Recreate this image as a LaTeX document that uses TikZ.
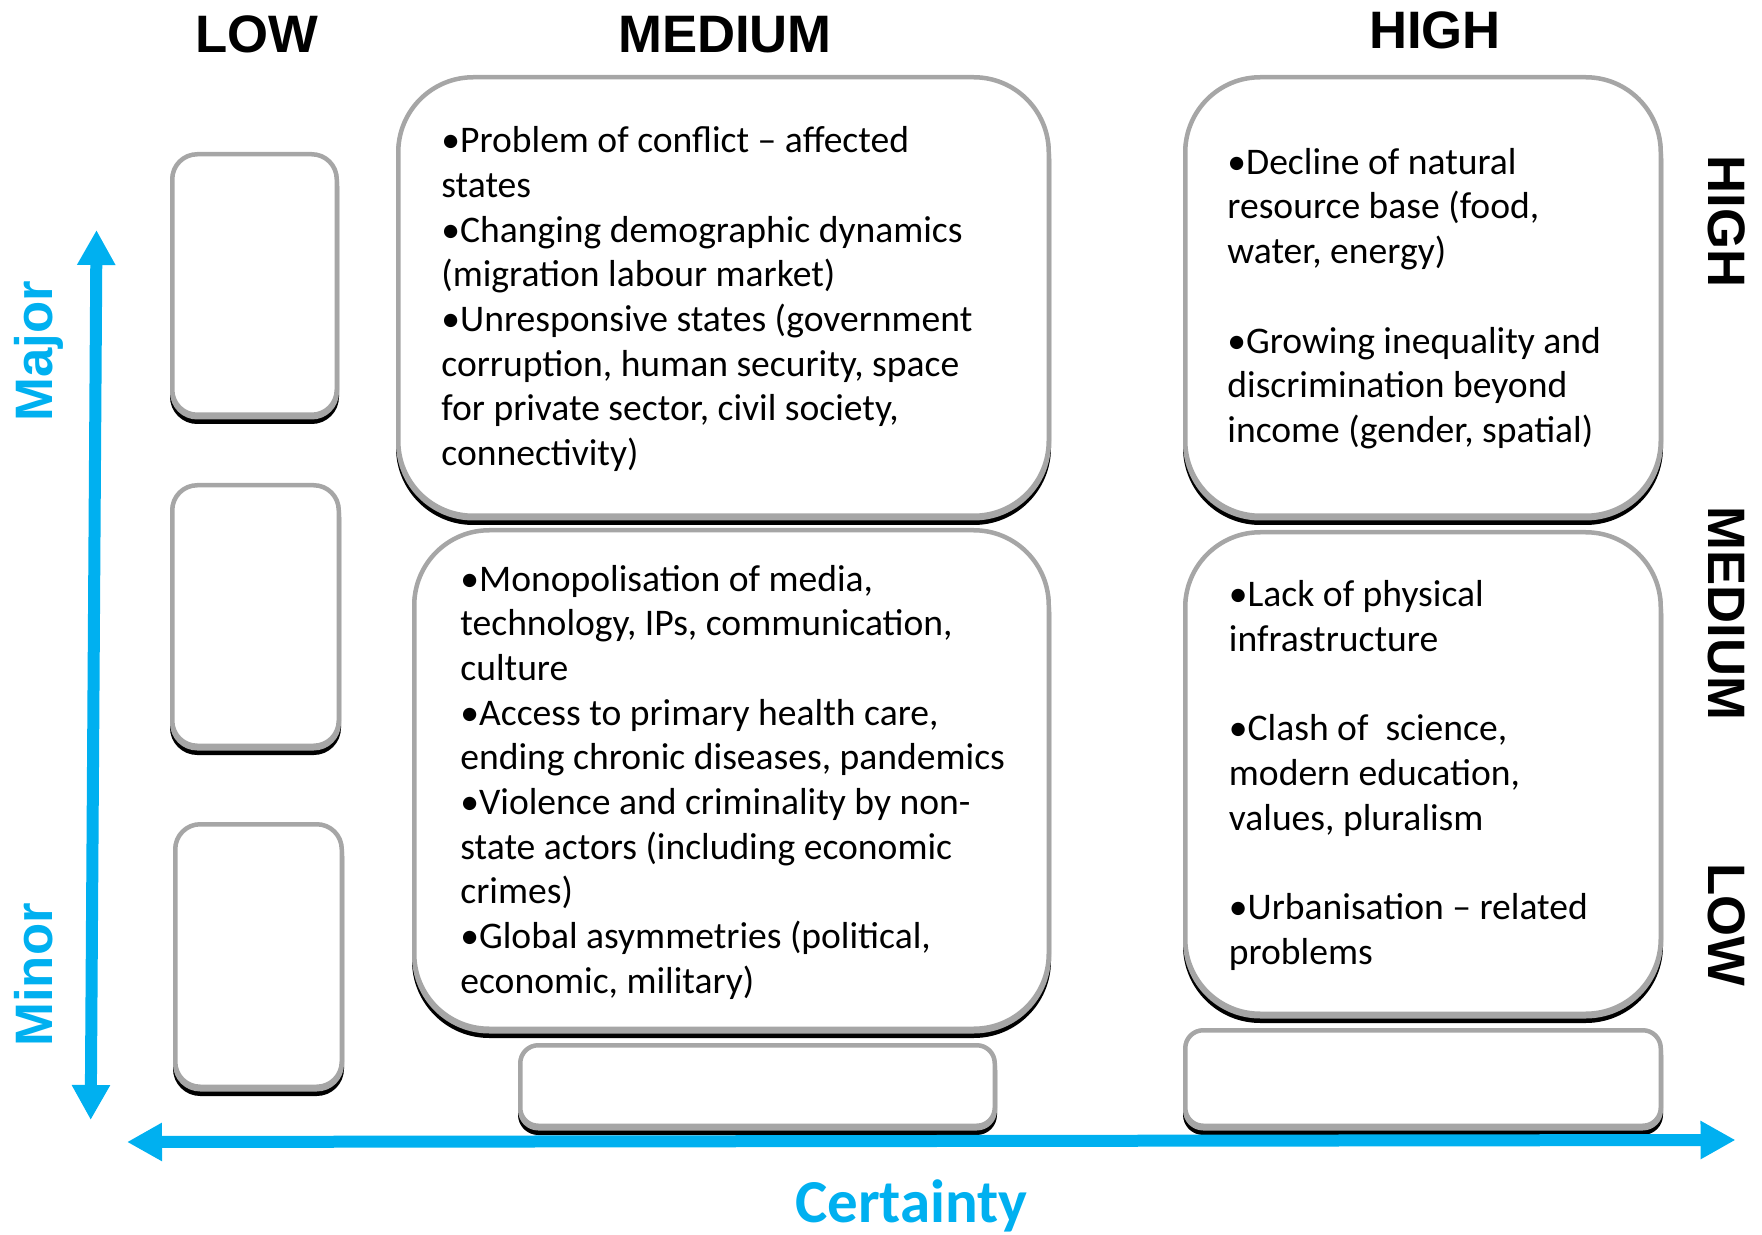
\documentclass[tikz,border=0pt]{standalone}
\usepackage{fontspec}
\usetikzlibrary{arrows.meta}
\newfontfamily\bodyfont{Carlito}
\newfontfamily\headfont{Liberation Sans}
\definecolor{axisblue}{HTML}{00B0F0}
\definecolor{boxgray}{HTML}{A6A6A6}
\newcommand\blist[1]{{\bodyfont\fontsize{18.8pt}{22.35pt}\selectfont\begin{tabular}[t]{@{}l@{}}#1\end{tabular}}}
\newcommand\bx[5]{\draw[bbox,rounded corners=#5] ({#1+2.25},{#2+2.25}) rectangle ({#3-2.25},{#4-2.25});}
\begin{document}
\begin{tikzpicture}[x=0.5pt,y=-0.5pt,
  bbox/.style={draw=boxgray, line width=2.25pt, fill=white,
    preaction={draw=black, fill=black, line width=2.25pt, transform canvas={yshift=-3.5pt}},
    preaction={draw=boxgray, fill=boxgray, line width=2.25pt, transform canvas={yshift=-1.25pt}}},
  head/.style={font=\headfont\bfseries\fontsize{26.35pt}{30pt}\selectfont, inner sep=0pt},
  txt/.style={anchor=base west, inner sep=0pt},
  axis/.style={draw=axisblue, line width=6pt, {Triangle[length=17.5pt,width=18pt]}-{Triangle[length=17.5pt,width=18pt]}}]
\useasboundingbox (0,0) rectangle (1762,1235);
% low column boxes
\bx{170}{152}{339}{417}{12.5pt}
\bx{170}{483}{341}{748}{12.5pt}
\bx{173}{822}{344}{1089}{12.5pt}
% medium column boxes
\bx{396}{75}{1051}{518}{37.5pt}
\bx{412}{528}{1051}{1031}{37.5pt}
\bx{518}{1043}{997}{1128}{9pt}
% high column boxes
\bx{1183}{75}{1663}{518}{37.5pt}
\bx{1183}{530}{1663}{1016}{37.5pt}
\bx{1183}{1028}{1663}{1128}{9pt}
% headings
\node[head, anchor=base] (lowH) at (257,52.8) {LOW};
\node[head, anchor=base] (medH) at (725,53) {MEDIUM};
\node[head, anchor=base] (highH) at (1435,48.3) {HIGH};
\node[head, rotate=-90, anchor=base] (highR) at (1708,221.5) {HIGH};
\node[head, rotate=-90, anchor=base] (medR) at (1708,613.5) {MEDIUM};
\node[head, rotate=-90, anchor=base] (lowR) at (1708,925) {LOW};
\node[head, text=axisblue, rotate=90, anchor=base] (major) at (52.4,351) {Major};
\node[head, text=axisblue, rotate=90, anchor=base] (minor) at (52.8,975) {Minor};
\node[anchor=base, inner sep=0pt, text=axisblue, font=\bodyfont\bfseries\fontsize{30.5pt}{36pt}\selectfont] (cert) at (911.5,1222) {Certainty};
% box texts
\node[txt] (m1t) at (441,152.7) {\blist{•Problem of conflict – affected\\ states\\ •Changing demographic dynamics\\ (migration labour market)\\ •Unresponsive states (government\\ corruption, human security, space\\ for private sector, civil society,\\ connectivity)}};
\node[txt] (m2t) at (460,591) {\blist{•Monopolisation of media,\\ technology, IPs, communication,\\ culture\\ •Access to primary health care,\\ ending chronic diseases, pandemics\\ •Violence and criminality by non-\\ state actors (including economic\\ crimes)\\ •Global asymmetries (political,\\ economic, military)}};
\node[txt] (h1t) at (1227,174.3) {\blist{•Decline of natural\\ resource base (food,\\ water, energy)\\ \\ •Growing inequality and\\ discrimination beyond\\ income (gender, spatial)}};
\node[txt] (h2t) at (1228.5,606.7) {\blist{•Lack of physical\\ infrastructure\\ \\ •Clash of\ \ science,\\ modern education,\\ values, pluralism\\ \\ •Urbanisation – related\\ problems}};
% axes
\coordinate (vtop) at (96.5,230);
\coordinate (vbot) at (90.7,1120);
\coordinate (hleft) at (127,1142);
\coordinate (hright) at (1735.5,1140);
\draw[axis] (vbot) -- (vtop);
\draw[axis] (hleft) -- (hright);
\end{tikzpicture}
\end{document}
